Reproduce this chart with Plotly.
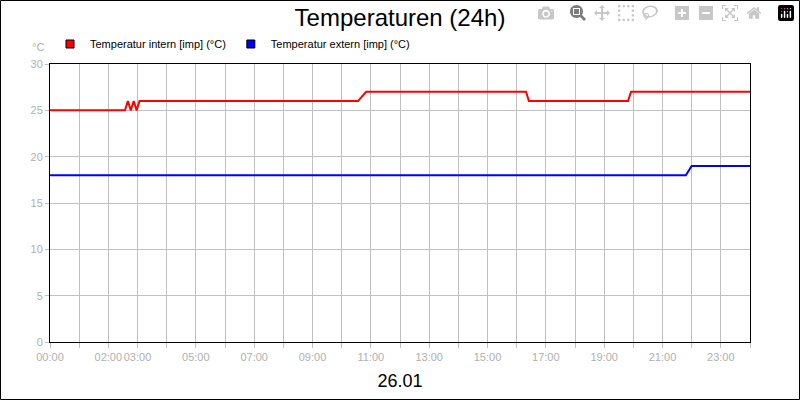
import plotly.graph_objects as go

# hours since 00:00
intern_x = [0, 2.57, 2.67, 2.77, 2.87, 2.97, 3.07, 10.56, 10.84, 16.32, 16.42, 19.82, 19.92, 24]
intern_y = [25, 25, 26, 25, 26, 25, 26, 26, 27, 27, 26, 26, 27, 27]
extern_x = [0, 21.8, 22.0, 24]
extern_y = [18, 18, 19, 19]

tick_hours = list(range(25))
tick_labels = ["00:00", "", "02:00", "03:00", "", "05:00", "", "07:00", "", "09:00", "",
               "11:00", "", "13:00", "", "15:00", "", "17:00", "", "19:00", "", "21:00",
               "", "23:00", ""]

W, H = 800, 400
L, R, T, B = 50, 50, 64, 58
pw, ph = W - L - R, H - T - B

fig = go.Figure()
fig.add_trace(go.Scatter(x=intern_x, y=intern_y, mode="lines", showlegend=False,
                         line=dict(color="#ff0000", width=2)))
fig.add_trace(go.Scatter(x=extern_x, y=extern_y, mode="lines", showlegend=False,
                         line=dict(color="#0000ff", width=2)))
# legend entries with square keys
for name, col in [("Temperatur intern [imp] (°C)", "#ff0000"),
                  ("Temperatur extern [imp] (°C)", "#0000ff")]:
    fig.add_trace(go.Scatter(x=[None], y=[None], mode="markers", name=name,
                             marker=dict(symbol="square", size=8, color=col,
                                         line=dict(color="black", width=1))))

fig.update_layout(
    width=W, height=H,
    margin=dict(l=L, r=R, t=T, b=B),
    paper_bgcolor="white", plot_bgcolor="white",
    font=dict(family="Liberation Sans, Arial", color="black"),
    title=dict(text="Temperaturen (24h)", x=0.5, xanchor="center", y=0.955, yanchor="middle",
               font=dict(size=24)),
    showlegend=True,
    legend=dict(orientation="h", x=0.0, xanchor="left", y=1 + 20 / ph, yanchor="middle",
                font=dict(size=11), tracegroupgap=0),
    xaxis=dict(range=[0, 24], tickmode="array", tickvals=tick_hours, ticktext=tick_labels,
               tickangle=0,
               showgrid=True, gridcolor="#c0c0c0", ticks="outside", ticklen=5, tickcolor="#c0c0c0",
               tickfont=dict(size=11, color="#b0b0b0"), showline=True, linecolor="black",
               mirror=True, zeroline=False,
               title=dict(text="26.01", font=dict(size=18), standoff=12)),
    yaxis=dict(range=[0, 30], dtick=5, showgrid=True, gridcolor="#c0c0c0", ticks="outside",
               ticklen=4, tickcolor="#c0c0c0", tickfont=dict(size=11, color="#b0b0b0"),
               showline=True, linecolor="black", mirror=True, zeroline=False),
    annotations=[dict(text="°C", xref="paper", yref="paper", x=-12 / pw, y=1 + 17 / ph,
                      showarrow=False, xanchor="center", yanchor="middle",
                      font=dict(size=11, color="#b0b0b0"))],
    shapes=[dict(type="rect", xref="paper", yref="paper",
                 x0=-(L - 0.5) / pw, x1=1 + (R - 0.5) / pw,
                 y0=-(B - 0.5) / ph, y1=1 + (T - 0.5) / ph,
                 line=dict(color="black", width=1), layer="above")],
)

fig.write_html("out.html", post_script="document.body.style.margin='0';")
